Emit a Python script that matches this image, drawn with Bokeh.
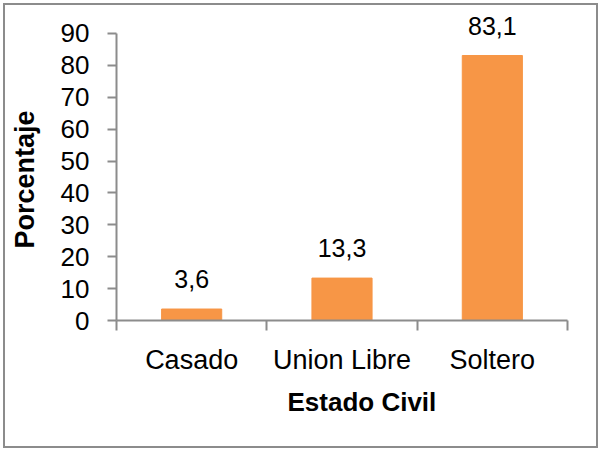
import numpy as np
from bokeh.plotting import figure
from bokeh.models import ColumnDataSource, FixedTicker, Range1d, LabelSet, Title
from bokeh.core.properties import value
from bokeh.embed import file_html
from bokeh.resources import INLINE

categories = ["Casado", "Union Libre", "Soltero"]
values = [3.6, 13.3, 83.1]
value_labels = ["3,6", "13,3", "83,1"]
y_ticks = [0, 10, 20, 30, 40, 50, 60, 70, 80, 90]
x_title = "Estado Civil"
y_title = "Porcentaje"

FONT = "Liberation Sans"
AXIS_COLOR = "#8c8c8c"
BAR_COLOR = "#F79646"

xs = np.arange(len(categories)) + 0.5
src = ColumnDataSource(dict(x=xs, top=values, lab=value_labels))

p = figure(width=591, height=441, output_backend="svg", toolbar_location=None,
           x_range=Range1d(0, len(categories)), y_range=Range1d(0, 98.78),
           min_border_left=111, min_border_right=29, min_border_top=0, min_border_bottom=126)
p.margin = (5, 0, 0, 5)
p.styles = {"outline": "2px solid #8c8c8c", "outline-offset": "0px"}
p.grid.visible = False
p.outline_line_color = None
p.background_fill_color = "white"
p.border_fill_color = "white"

p.vbar(x="x", top="top", width=0.4, source=src, fill_color=BAR_COLOR, line_color=BAR_COLOR)

labels = LabelSet(x="x", y="top", text="lab", source=src, text_align="center",
                  text_baseline="alphabetic", y_offset=21, text_font=value(FONT),
                  text_font_size="25px", text_color="black")
p.add_layout(labels)

# x axis
p.xaxis.ticker = FixedTicker(ticks=list(xs), minor_ticks=list(range(len(categories) + 1)))
p.xaxis.major_label_overrides = {float(x): c for x, c in zip(xs, categories)}
p.xaxis.major_tick_line_color = None
p.xaxis.minor_tick_line_color = AXIS_COLOR
p.xaxis.minor_tick_line_width = 2
p.xaxis.minor_tick_out = 10
p.xaxis.minor_tick_in = 0
p.xaxis.major_label_standoff = 14
p.xaxis.major_label_text_font_size = "27px"

# y axis
p.yaxis.ticker = FixedTicker(ticks=y_ticks, minor_ticks=[])
p.yaxis.bounds = (y_ticks[0], y_ticks[-1])
p.yaxis.major_tick_out = 9
p.yaxis.major_tick_in = 0
p.yaxis.major_tick_line_color = AXIS_COLOR
p.yaxis.major_tick_line_width = 2
p.yaxis.major_label_standoff = 18
p.yaxis.major_label_text_font_size = "26px"
p.yaxis.axis_label = " "
p.yaxis.axis_label_standoff = 13
p.yaxis.axis_label_text_font_size = "2px"

for ax in (p.xaxis[0], p.yaxis[0]):
    ax.axis_line_color = AXIS_COLOR
    ax.axis_line_width = 2
    ax.major_label_text_font = FONT
    ax.major_label_text_color = "black"

xt = Title(text=x_title, align="left", offset=171, standoff=14, text_font=FONT,
           text_font_size="26px", text_font_style="bold", text_color="black")
p.add_layout(xt, "below")
yt = Title(text=y_title, align="left", offset=72, standoff=0, text_font=FONT,
           text_font_size="27px", text_font_style="bold", text_color="black")
p.add_layout(yt, "left")

open("out.html", "w").write(file_html(p, INLINE))
